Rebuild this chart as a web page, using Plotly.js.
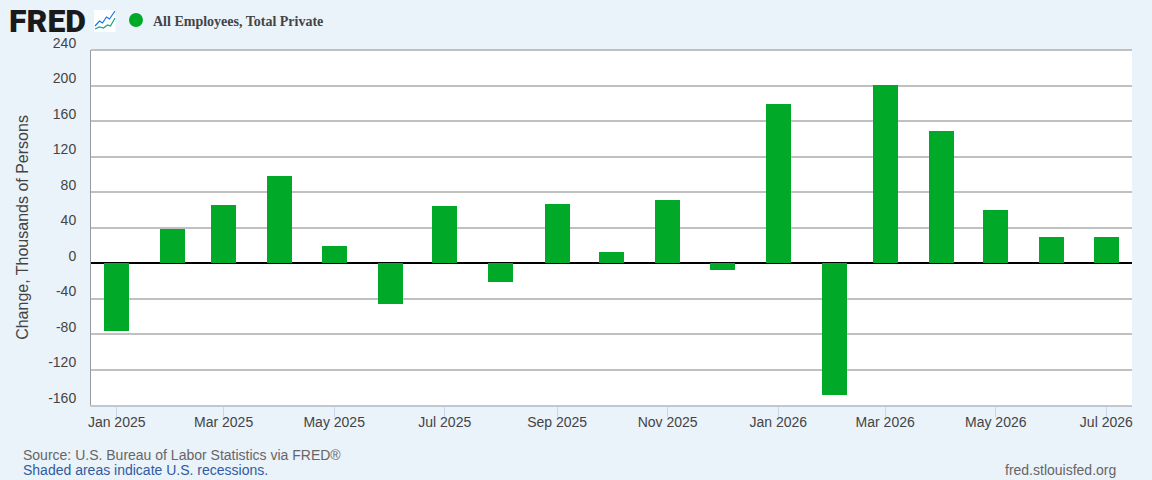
<!DOCTYPE html>
<html><head><meta charset="utf-8">
<script src="https://cdn.plot.ly/plotly-3.0.1.min.js"></script>
<style>html,body{margin:0;padding:0;background:#eaf2fa}#c{width:1152px;height:480px}</style>
</head><body><div id="c"></div>
<script>
const months = ["2025-01-01","2025-02-01","2025-03-01","2025-04-01","2025-05-01","2025-06-01","2025-07-01","2025-08-01","2025-09-01","2025-10-01","2025-11-01","2025-12-01","2026-01-01","2026-02-01","2026-03-01","2026-04-01","2026-05-01","2026-06-01","2026-07-01"];
const changes = [-77,38,65,98,19,-46,64,-21,66,12,71,-8,179,-149,201,149,60,29,29];
const tickDates = ["2025-01-01","2025-03-01","2025-05-01","2025-07-01","2025-09-01","2025-11-01","2026-01-01","2026-03-01","2026-05-01","2026-07-01"];
const tickLabels = ["Jan 2025","Mar 2025","May 2025","Jul 2025","Sep 2025","Nov 2025","Jan 2026","Mar 2026","May 2026","Jul 2026"];
const yTicks = [-160,-120,-80,-40,0,40,80,120,160,200,240];
const W=1152,H=480,L=90.5,R=1132,T=50,B=405;
const xp=x=>(x-L)/(R-L), yp=y=>(B-y)/(B-T);
const barMs = 13.8*864e5;
const ink="#444444";
const data=[{type:"bar",x:months,y:changes,width:barMs,marker:{color:"#00a927",line:{width:0}},hoverinfo:"x+y"}];
const layout={
 width:W,height:H,paper_bgcolor:"#eaf2fa",plot_bgcolor:"#ffffff",showlegend:false,
 margin:{l:L,r:W-R,t:T,b:H-B,pad:0},bargap:0,
 font:{family:"Liberation Sans, Arial, sans-serif",color:ink,size:14},
 xaxis:{type:"date",range:["2024-12-17 20:00","2026-07-15 04:00"],tickmode:"array",tickvals:tickDates,ticktext:tickLabels,
  showgrid:false,zeroline:false,ticks:"outside",ticklen:10,tickwidth:1,tickcolor:"#c8d7ea",ticklabelstandoff:-7,
  showline:true,linecolor:"#c0c8d4",linewidth:2,tickfont:{size:14,color:ink},tickangle:0},
 yaxis:{range:[-160,240],tickmode:"array",tickvals:yTicks,ticktext:yTicks.map(String),
  showgrid:true,gridcolor:"#c0c0c0",gridwidth:2,zeroline:true,zerolinecolor:"#000000",zerolinewidth:2,
  showline:true,linecolor:"#999999",linewidth:1,ticks:"",ticklabelshift:-7,ticklabelstandoff:11,tickfont:{size:14,color:ink},
  title:{text:"Change, Thousands of Persons",font:{size:16,color:ink},standoff:15}},
 shapes:[
  {type:"line",xref:"paper",yref:"paper",x0:0,x1:1,y0:1,y1:1,line:{color:"#c0c0c0",width:2}},
  {type:"rect",xref:"paper",yref:"paper",x0:xp(93.5),x1:xp(115),y0:yp(32),y1:yp(10),fillcolor:"#ffffff",line:{width:0},layer:"above"},
  {type:"path",xref:"paper",yref:"paper",path:`M ${xp(94.5)} ${yp(26)} L ${xp(99)} ${yp(21)} L ${xp(102)} ${yp(23)} L ${xp(106)} ${yp(17)} L ${xp(109)} ${yp(19)} L ${xp(114.5)} ${yp(11)}`,line:{color:"#1a73e8",width:1.2}},
  {type:"path",xref:"paper",yref:"paper",path:`M ${xp(94.5)} ${yp(29)} L ${xp(99)} ${yp(27)} L ${xp(103)} ${yp(28)} L ${xp(107)} ${yp(25)} L ${xp(110)} ${yp(26)} L ${xp(114.5)} ${yp(18)}`,line:{color:"#17a589",width:1.2}},
  {type:"circle",xref:"paper",yref:"paper",x0:xp(128.5),x1:xp(142.5),y0:yp(27),y1:yp(13),fillcolor:"#00a927",line:{width:0}}
 ],
 annotations:[
  {xref:"paper",yref:"paper",x:xp(6),y:yp(21),xanchor:"left",yanchor:"middle",showarrow:false,text:"FRED",font:{family:"Roboto",weight:900,size:32,color:"#1a1a1a"}},
  {xref:"paper",yref:"paper",x:xp(151),y:yp(21),xanchor:"left",yanchor:"middle",showarrow:false,text:"<b>All Employees, Total Private</b>",font:{family:"Liberation Serif",size:14,color:"#444444"}},
  {xref:"paper",yref:"paper",x:xp(20),y:yp(455),xanchor:"left",yanchor:"middle",showarrow:false,text:"Source: U.S. Bureau of Labor Statistics via FRED®",font:{size:14,color:"#666666"}},
  {xref:"paper",yref:"paper",x:xp(20),y:yp(470),xanchor:"left",yanchor:"middle",showarrow:false,text:"Shaded areas indicate U.S. recessions.",font:{size:14,color:"#2f5c9e"}},
  {xref:"paper",yref:"paper",x:xp(1118),y:yp(470),xanchor:"right",yanchor:"middle",showarrow:false,text:"fred.stlouisfed.org",font:{size:14,color:"#666666"}}
 ]
};
Plotly.newPlot("c",data,layout,{displayModeBar:false,responsive:false});
</script></body></html>
